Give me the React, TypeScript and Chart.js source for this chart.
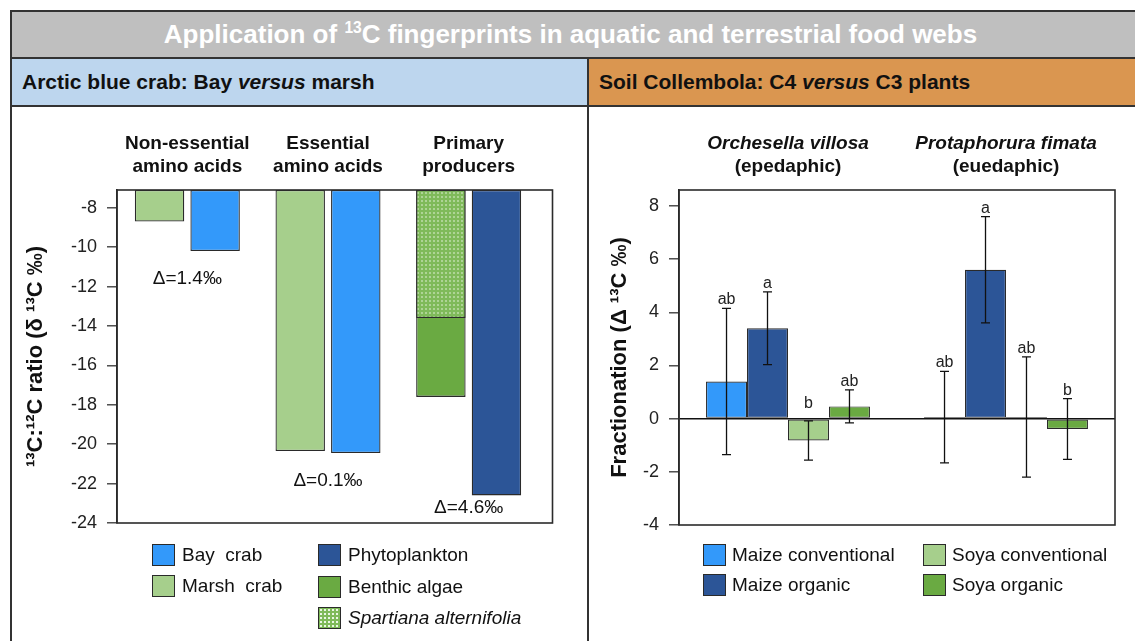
import React, { useEffect, useRef } from 'react';
import { Chart, registerables } from 'chart.js';

Chart.register(...registerables);

const FONT = '"Liberation Sans", Arial, Helvetica, sans-serif';

// ---------------- Left panel: Arctic blue crab ----------------
const CRAB_GROUPS = [
  ['Non-essential', 'amino acids'],
  ['Essential', 'amino acids'],
  ['Primary', 'producers'],
];
const MARSH_CRAB = [-8.7, -20.35, null];
const BAY_CRAB = [-10.2, -20.45, null];
const SPARTINA = [null, null, -13.6];
const BENTHIC_ALGAE = [null, null, -17.6];
const PHYTOPLANKTON = [null, null, -22.6];
const DELTA_LABELS = ['Δ=1.4‰', 'Δ=0.1‰', 'Δ=4.6‰'];
const CRAB_Y_TICKS = [-8, -10, -12, -14, -16, -18, -20, -22, -24];
const CRAB_Y_MIN = -24;
const CRAB_Y_MAX = -7.1;

// ---------------- Right panel: Soil Collembola ----------------
const COLLEMBOLA_GROUPS = [
  ['Orchesella villosa', '(epedaphic)'],
  ['Protaphorura fimata', '(euedaphic)'],
];
const MAIZE_CONV = [1.4, 0.06];
const MAIZE_CONV_ERR = [2.75, 1.72];
const MAIZE_CONV_LETTERS = ['ab', 'ab'];
const MAIZE_ORG = [3.4, 5.6];
const MAIZE_ORG_ERR = [1.37, 2.0];
const MAIZE_ORG_LETTERS = ['a', 'a'];
const SOYA_CONV = [-0.82, 0.06];
const SOYA_CONV_ERR = [0.74, 2.26];
const SOYA_CONV_LETTERS = ['b', 'ab'];
const SOYA_ORG = [0.46, -0.39];
const SOYA_ORG_ERR = [0.62, 1.14];
const SOYA_ORG_LETTERS = ['ab', 'b'];
const FRAC_Y_TICKS = [8, 6, 4, 2, 0, -2, -4];
const FRAC_Y_MIN = -4;
const FRAC_Y_MAX = 8.6;

// ---------------- Colours ----------------
const C_LIGHT_BLUE = '#3399fa';
const C_DARK_BLUE = '#2c5597';
const C_LIGHT_GREEN = '#a6cf8c';
const C_GREEN = '#6aaa42';
const C_SPARTINA = '#7fba5a';
const C_BORDER = '#2a2a2a';

const CRAB_LEGEND_COL1 = [
  { name: 'Bay  crab', color: C_LIGHT_BLUE },
  { name: 'Marsh  crab', color: C_LIGHT_GREEN },
];
const CRAB_LEGEND_COL2 = [
  { name: 'Phytoplankton', color: C_DARK_BLUE },
  { name: 'Benthic algae', color: C_GREEN },
  { name: 'Spartiana alternifolia', color: 'dots', italic: true },
];
const FRAC_LEGEND_COL1 = [
  { name: 'Maize conventional', color: C_LIGHT_BLUE },
  { name: 'Maize organic', color: C_DARK_BLUE },
];
const FRAC_LEGEND_COL2 = [
  { name: 'Soya conventional', color: C_LIGHT_GREEN },
  { name: 'Soya organic', color: C_GREEN },
];

function makeDotPattern(ctx: CanvasRenderingContext2D) {
  const c = document.createElement('canvas');
  c.width = 4;
  c.height = 4;
  const g = c.getContext('2d')!;
  g.fillStyle = C_SPARTINA;
  g.fillRect(0, 0, 4, 4);
  g.fillStyle = 'rgba(240,250,235,0.95)';
  g.beginPath();
  g.arc(2, 2, 0.8, 0, Math.PI * 2);
  g.fill();
  return ctx.createPattern(c, 'repeat')!;
}

function framePlugin(extRight: number) {
  return {
    id: 'frame',
    afterDatasetsDraw(chart: any) {
      const { ctx, chartArea: a } = chart;
      ctx.save();
      ctx.strokeStyle = '#2b2b2b';
      ctx.lineWidth = 1.6;
      ctx.strokeRect(a.left, a.top, a.right + extRight - a.left, a.bottom - a.top);
      ctx.restore();
    },
  };
}

function groupTitlePlugin(groups: string[][], italicFirst: boolean) {
  return {
    id: 'groupTitles',
    afterDraw(chart: any) {
      const { ctx, chartArea: a } = chart;
      const x = chart.scales.x;
      ctx.save();
      ctx.fillStyle = '#111';
      ctx.textAlign = 'center';
      ctx.textBaseline = 'middle';
      groups.forEach((lines, i) => {
        const cx = x.getPixelForValue(i);
        ctx.font = `${italicFirst ? 'italic ' : ''}bold 19px ${FONT}`;
        ctx.fillText(lines[0], cx, a.top - 46);
        ctx.font = `bold 19px ${FONT}`;
        ctx.fillText(lines[1], cx, a.top - 23);
      });
      ctx.restore();
    },
  };
}

const deltaPlugin = {
  id: 'deltaLabels',
  afterDatasetsDraw(chart: any) {
    const { ctx, chartArea: a } = chart;
    const x = chart.scales.x;
    const y = chart.scales.y;
    ctx.save();
    ctx.fillStyle = '#111';
    ctx.font = `19px ${FONT}`;
    ctx.textAlign = 'center';
    ctx.textBaseline = 'middle';
    DELTA_LABELS.forEach((txt, i) => {
      let low = -Infinity;
      chart.data.datasets.forEach((ds: any) => {
        const v = ds.data[i];
        if (v !== null && v !== undefined) low = Math.max(low, y.getPixelForValue(v));
      });
      const ty = Math.min(low + 28, a.bottom - 15);
      ctx.fillText(txt, x.getPixelForValue(i), ty);
    });
    ctx.restore();
  },
};

const FRAC_ERRORS = [MAIZE_CONV_ERR, MAIZE_ORG_ERR, SOYA_CONV_ERR, SOYA_ORG_ERR];
const FRAC_LETTERS = [MAIZE_CONV_LETTERS, MAIZE_ORG_LETTERS, SOYA_CONV_LETTERS, SOYA_ORG_LETTERS];

const errorBarPlugin = {
  id: 'errorBars',
  afterDatasetsDraw(chart: any) {
    const { ctx } = chart;
    const y = chart.scales.y;
    const zero = y.getPixelForValue(0);
    ctx.save();
    ctx.strokeStyle = '#111';
    ctx.lineWidth = 1.3;
    ctx.fillStyle = '#222';
    ctx.font = `16px ${FONT}`;
    ctx.textAlign = 'center';
    ctx.textBaseline = 'alphabetic';
    chart.data.datasets.forEach((ds: any, di: number) => {
      const meta = chart.getDatasetMeta(di);
      meta.data.forEach((bar: any, i: number) => {
        const v = ds.data[i];
        const e = FRAC_ERRORS[di][i];
        const yHi = y.getPixelForValue(v + e);
        const yLo = y.getPixelForValue(v - e);
        const bx = bar.x;
        ctx.beginPath();
        ctx.moveTo(bx, yHi);
        ctx.lineTo(bx, yLo);
        ctx.moveTo(bx - 4.5, yHi);
        ctx.lineTo(bx + 4.5, yHi);
        ctx.moveTo(bx - 4.5, yLo);
        ctx.lineTo(bx + 4.5, yLo);
        ctx.stroke();
        ctx.fillText(FRAC_LETTERS[di][i], bx, Math.min(yHi, zero - 7) - 4);
      });
    });
    ctx.restore();
  },
};

function yAxis(
  min: number,
  max: number,
  ticks: number[],
  title: string,
  titlePad: number,
  width: number,
  zeroLine: boolean
) {
  return {
    type: 'linear',
    position: 'left',
    min,
    max,
    stacked: false,
    afterBuildTicks: (s: any) => {
      s.ticks = ticks.map((v) => ({ value: v }));
    },
    afterFit: (s: any) => {
      s.width = width;
    },
    grid: {
      drawOnChartArea: zeroLine,
      drawTicks: true,
      tickLength: 10,
      tickColor: '#333',
      tickWidth: 1.3,
      color: (c: any) => (zeroLine && c.tick && c.tick.value === 0 ? '#111' : 'rgba(0,0,0,0)'),
      lineWidth: 1.6,
    },
    border: { display: true, color: '#2b2b2b', width: 1.6 },
    ticks: { color: '#222', font: { family: FONT, size: 18 }, padding: 10 },
    title: {
      display: true,
      text: title,
      color: '#111',
      font: { family: FONT, size: 22, weight: 'bold' },
      padding: { top: titlePad, bottom: 0 },
    },
  };
}

function LegendBox({ left, top, color }: { left: number; top: number; color: string }) {
  const bg =
    color === 'dots'
      ? `radial-gradient(circle at 2px 2px, rgba(240,250,235,0.95) 0.8px, rgba(0,0,0,0) 1.2px) 0 0 / 4px 4px, ${C_SPARTINA}`
      : color;
  return (
    <div
      style={{
        position: 'absolute',
        left,
        top,
        width: 23,
        height: 22,
        boxSizing: 'border-box',
        border: `1.5px solid ${C_BORDER}`,
        background: bg,
      }}
    />
  );
}

function LegendText({ left, top, text, italic }: { left: number; top: number; text: string; italic?: boolean }) {
  return (
    <div
      style={{
        position: 'absolute',
        left,
        top,
        height: 22,
        lineHeight: '22px',
        fontSize: 19,
        color: '#111',
        whiteSpace: 'pre',
        fontStyle: italic ? 'italic' : 'normal',
      }}
    >
      {text}
    </div>
  );
}

export default function App() {
  const leftRef = useRef<HTMLCanvasElement>(null);
  const rightRef = useRef<HTMLCanvasElement>(null);

  useEffect(() => {
    const lc = leftRef.current!;
    const rc = rightRef.current!;
    const dots = makeDotPattern(lc.getContext('2d')!);

    const crabBar = {
      base: CRAB_Y_MAX,
      borderColor: C_BORDER,
      borderWidth: 1.3,
      borderSkipped: false,
      categoryPercentage: 0.79,
      barPercentage: 0.89,
    };

    const left = new Chart(lc, {
      type: 'bar',
      data: {
        labels: CRAB_GROUPS.map((g) => g.join(' ')),
        datasets: [
          { ...crabBar, label: 'Spartiana alternifolia', data: SPARTINA, stack: 'A', backgroundColor: dots },
          { ...crabBar, label: 'Marsh crab', data: MARSH_CRAB, stack: 'A', backgroundColor: C_LIGHT_GREEN },
          { ...crabBar, label: 'Benthic algae', data: BENTHIC_ALGAE, stack: 'A', backgroundColor: C_GREEN },
          { ...crabBar, label: 'Bay crab', data: BAY_CRAB, stack: 'B', backgroundColor: C_LIGHT_BLUE },
          { ...crabBar, label: 'Phytoplankton', data: PHYTOPLANKTON, stack: 'B', backgroundColor: C_DARK_BLUE },
        ] as any,
      },
      options: {
        responsive: false,
        animation: false,
        devicePixelRatio: 1,
        layout: { padding: { left: 0, right: 48, top: 83, bottom: 118 } },
        plugins: { legend: { display: false }, tooltip: { enabled: false }, title: { display: false } },
        scales: {
          x: { display: false },
          y: yAxis(CRAB_Y_MIN, CRAB_Y_MAX, CRAB_Y_TICKS, '¹³C:¹²C ratio (δ ¹³C ‰)', 11, 105, false),
        } as any,
      },
      plugins: [framePlugin(13.5), groupTitlePlugin(CRAB_GROUPS, false), deltaPlugin],
    } as any);

    const fracBar = {
      borderColor: C_BORDER,
      borderWidth: 1.2,
      borderSkipped: false,
      categoryPercentage: 0.752,
      barPercentage: 1.0,
    };

    const right = new Chart(rc, {
      type: 'bar',
      data: {
        labels: COLLEMBOLA_GROUPS.map((g) => g.join(' ')),
        datasets: [
          { ...fracBar, label: 'Maize conventional', data: MAIZE_CONV, backgroundColor: C_LIGHT_BLUE },
          { ...fracBar, label: 'Maize organic', data: MAIZE_ORG, backgroundColor: C_DARK_BLUE },
          { ...fracBar, label: 'Soya conventional', data: SOYA_CONV, backgroundColor: C_LIGHT_GREEN },
          { ...fracBar, label: 'Soya organic', data: SOYA_ORG, backgroundColor: C_GREEN },
        ] as any,
      },
      options: {
        responsive: false,
        animation: false,
        devicePixelRatio: 1,
        layout: { padding: { left: 0, right: 20, top: 83, bottom: 116 } },
        plugins: { legend: { display: false }, tooltip: { enabled: false }, title: { display: false } },
        scales: {
          x: { display: false },
          y: yAxis(FRAC_Y_MIN, FRAC_Y_MAX, FRAC_Y_TICKS, 'Fractionation (Δ ¹³C ‰)', 18, 90, true),
        } as any,
      },
      plugins: [framePlugin(0), groupTitlePlugin(COLLEMBOLA_GROUPS, true), errorBarPlugin],
    } as any);

    return () => {
      left.destroy();
      right.destroy();
    };
  }, []);

  const line = '2px solid #333';

  return (
    <div
      style={{
        position: 'fixed',
        left: 0,
        top: 0,
        width: 1135,
        height: 641,
        background: '#fff',
        overflow: 'hidden',
        fontFamily: FONT,
      }}
    >
      {/* main title bar */}
      <div
        style={{
          position: 'absolute',
          left: 10,
          top: 10,
          width: 1140,
          height: 49,
          boxSizing: 'border-box',
          background: '#bfbfbf',
          borderTop: line,
          borderLeft: line,
        }}
      >
        <div
          style={{
            position: 'absolute',
            left: 0,
            top: 0,
            width: 1117,
            height: 45,
            lineHeight: '45px',
            textAlign: 'center',
            color: '#fff',
            fontWeight: 'bold',
            fontSize: 26,
            whiteSpace: 'nowrap',
          }}
        >
          Application of <sup style={{ fontSize: '0.6em', lineHeight: 0 }}>13</sup>C fingerprints in aquatic and
          terrestrial food webs
        </div>
      </div>

      {/* sub headers */}
      <div
        style={{
          position: 'absolute',
          left: 10,
          top: 57,
          width: 579,
          height: 50,
          boxSizing: 'border-box',
          background: '#bdd6ee',
          border: line,
          paddingLeft: 10,
          lineHeight: '46px',
          fontSize: 21,
          fontWeight: 'bold',
          color: '#111',
          whiteSpace: 'nowrap',
        }}
      >
        Arctic blue crab: Bay <i>versus</i> marsh
      </div>
      <div
        style={{
          position: 'absolute',
          left: 587,
          top: 57,
          width: 560,
          height: 50,
          boxSizing: 'border-box',
          background: '#da9650',
          borderTop: line,
          borderBottom: line,
          borderLeft: line,
          paddingLeft: 10,
          lineHeight: '46px',
          fontSize: 21,
          fontWeight: 'bold',
          color: '#111',
          whiteSpace: 'nowrap',
        }}
      >
        Soil Collembola: C4 <i>versus</i> C3 plants
      </div>

      {/* panels */}
      <div
        style={{
          position: 'absolute',
          left: 10,
          top: 105,
          width: 579,
          height: 600,
          boxSizing: 'border-box',
          borderLeft: line,
          borderRight: line,
        }}
      />

      <canvas
        ref={leftRef}
        width={575}
        height={534}
        style={{ position: 'absolute', left: 12, top: 107, width: 575, height: 534 }}
      />
      <canvas
        ref={rightRef}
        width={546}
        height={534}
        style={{ position: 'absolute', left: 589, top: 107, width: 546, height: 534 }}
      />

      {/* left legend */}
      {CRAB_LEGEND_COL1.map((it, i) => (
        <React.Fragment key={'l1' + i}>
          <LegendBox left={152} top={544 + i * 31} color={it.color} />
          <LegendText left={182} top={544 + i * 31} text={it.name} />
        </React.Fragment>
      ))}
      {CRAB_LEGEND_COL2.map((it, i) => (
        <React.Fragment key={'l2' + i}>
          <LegendBox left={318} top={544 + i * 31.5} color={it.color} />
          <LegendText left={348} top={544 + i * 31.5} text={it.name} italic={it.italic} />
        </React.Fragment>
      ))}

      {/* right legend */}
      {FRAC_LEGEND_COL1.map((it, i) => (
        <React.Fragment key={'r1' + i}>
          <LegendBox left={703} top={544 + i * 30} color={it.color} />
          <LegendText left={732} top={544 + i * 30} text={it.name} />
        </React.Fragment>
      ))}
      {FRAC_LEGEND_COL2.map((it, i) => (
        <React.Fragment key={'r2' + i}>
          <LegendBox left={923} top={544 + i * 30} color={it.color} />
          <LegendText left={952} top={544 + i * 30} text={it.name} />
        </React.Fragment>
      ))}
    </div>
  );
}
